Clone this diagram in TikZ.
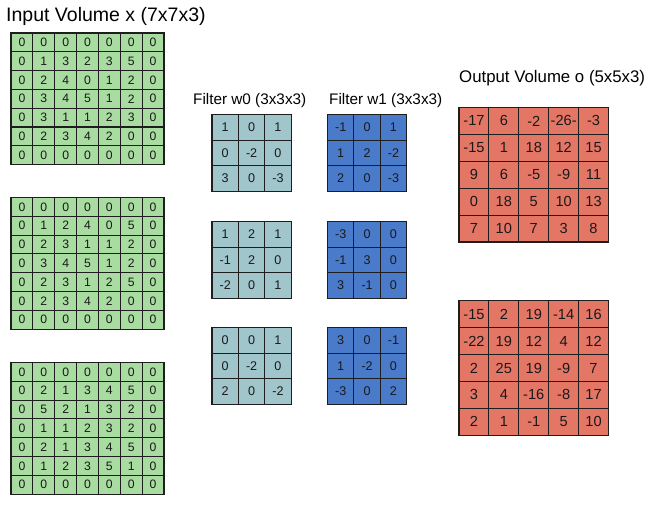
\documentclass[tikz,border=0pt]{standalone}
\usepackage{fontspec}
\setmainfont{Liberation Sans}
\definecolor{ingreen}{RGB}{168,220,160}
\definecolor{wzero}{RGB}{160,198,204}
\definecolor{wone}{RGB}{74,122,202}
\definecolor{outred}{RGB}{228,118,102}
\definecolor{gridline}{RGB}{30,30,30}
\newcommand\cellgrid[8]{% name, x0, y0, w, h, fill, fontsize, rows
  \foreach \rowlist [count=\r] in {#8} {
    \foreach \v [count=\c] in \rowlist {
      \node[cellbox, fill=#6, minimum width=#4, minimum height=#5,
            font=\fontsize{#7}{#7}\selectfont]
        (#1-\r-\c) at ({#2+(\c-0.5)*#4},{#3+(\r-0.5)*#5}) {\v};
    }
  }
}
\begin{document}
\begin{tikzpicture}[x=1pt,y=-1pt,
  cellbox/.style={draw=gridline, line width=1.1pt, inner sep=0pt, text=black!90},
  title/.style={anchor=base west, inner sep=0pt, text=black}]
\useasboundingbox[fill=white] (0,0) rectangle (659,505);

\node[title, font=\fontsize{19.5}{20}\selectfont] (tin) at (6,22) {Input Volume x (7x7x3)};
\node[title, font=\fontsize{15.3}{16}\selectfont] (tw0) at (193,105) {Filter w0 (3x3x3)};
\node[title, font=\fontsize{15.3}{16}\selectfont] (tw1) at (329,105) {Filter w1 (3x3x3)};
\node[title, font=\fontsize{16.8}{17}\selectfont] (tout) at (459,82.5) {Output Volume o (5x5x3)};

% input volume
\cellgrid{xa}{11}{33}{21.86}{18.8}{ingreen}{12.2}{{0,0,0,0,0,0,0},{0,1,3,2,3,5,0},{0,2,4,0,1,2,0},{0,3,4,5,1,2,0},{0,3,1,1,2,3,0},{0,2,3,4,2,0,0},{0,0,0,0,0,0,0}}
\cellgrid{xb}{11}{197.5}{21.86}{18.8}{ingreen}{12.2}{{0,0,0,0,0,0,0},{0,1,2,4,0,5,0},{0,2,3,1,1,2,0},{0,3,4,5,1,2,0},{0,2,3,1,2,5,0},{0,2,3,4,2,0,0},{0,0,0,0,0,0,0}}
\cellgrid{xc}{11}{362.5}{21.86}{18.8}{ingreen}{12.2}{{0,0,0,0,0,0,0},{0,2,1,3,4,5,0},{0,5,2,1,3,2,0},{0,1,1,2,3,2,0},{0,2,1,3,4,5,0},{0,1,2,3,5,1,0},{0,0,0,0,0,0,0}}

% filter w0
\cellgrid{wa}{212}{114.5}{26.4}{25.6}{wzero}{12.6}{{1,0,1},{0,-2,0},{3,0,-3}}
\cellgrid{wb}{212}{221.5}{26.4}{25.6}{wzero}{12.6}{{1,2,1},{-1,2,0},{-2,0,1}}
\cellgrid{wc}{212}{327.5}{26.4}{25.6}{wzero}{12.6}{{0,0,1},{0,-2,0},{2,0,-2}}

% filter w1
\cellgrid{va}{327.5}{114.5}{26.4}{25.6}{wone}{12.6}{{-1,0,1},{1,2,-2},{2,0,-3}}
\cellgrid{vb}{327.5}{221.5}{26.4}{25.6}{wone}{12.6}{{-3,0,0},{-1,3,0},{3,-1,0}}
\cellgrid{vc}{327.5}{327.5}{26.4}{25.6}{wone}{12.6}{{3,0,-1},{1,-2,0},{-3,0,2}}

% output volume
\cellgrid{oa}{459}{107.5}{29.9}{26.9}{outred}{14.6}{{-17,6,-2,-26-,-3},{-15,1,18,12,15},{9,6,-5,-9,11},{0,18,5,10,13},{7,10,7,3,8}}
\cellgrid{ob}{459}{300.8}{29.9}{26.9}{outred}{14.6}{{-15,2,19,-14,16},{-22,19,12,4,12},{2,25,19,-9,7},{3,4,-16,-8,17},{2,1,-1,5,10}}
\end{tikzpicture}
\end{document}
